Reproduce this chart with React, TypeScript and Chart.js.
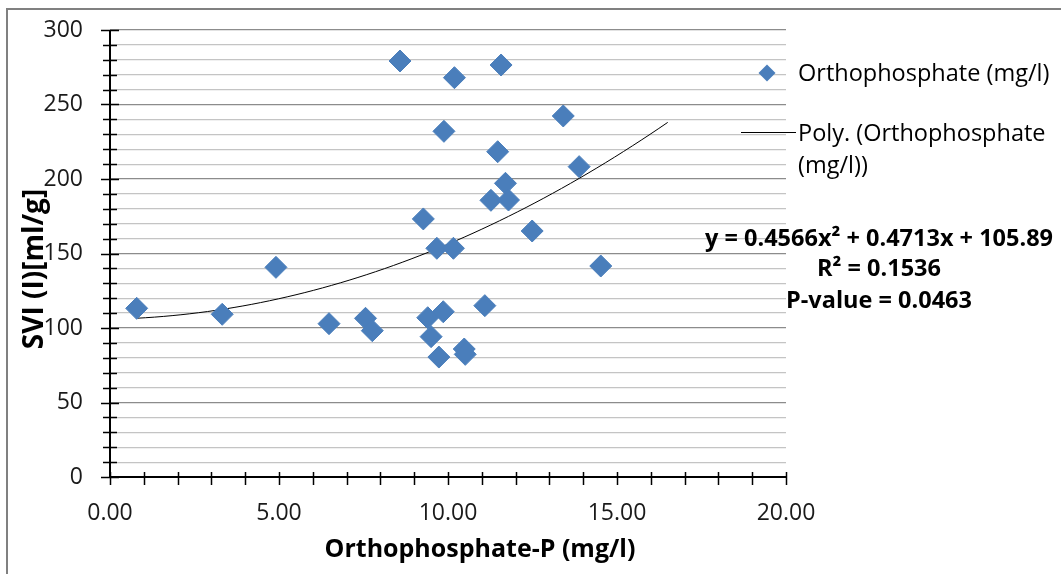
import React, { useEffect, useRef } from "react";
import { Chart, registerables } from "chart.js";

Chart.register(...registerables);

// Orthophosphate-P (mg/l) and SVI (ml/g) for each sample
const xValues = [0.79, 3.32, 4.91, 6.48, 7.56, 7.76, 9.4, 9.86, 9.5, 9.73, 10.48, 10.51, 11.09, 14.52, 8.58, 10.19, 11.57, 13.41, 9.88, 11.47, 13.88, 11.7, 11.27, 11.79, 9.27, 12.49, 9.67, 10.16];
const yValues = [113.2, 109.2, 140.7, 102.9, 106.5, 98.2, 106.9, 110.9, 94.2, 80.5, 85.9, 82.3, 115.0, 141.6, 279.2, 268.0, 276.5, 242.3, 232.0, 218.3, 208.3, 197.1, 185.7, 185.9, 173.2, 165.1, 153.5, 153.5];

// Trendline as reported on the chart: y = a x^2 + b x + c
const trendCoefficients = [0.4566, 0.4713, 105.89];
const trendRange = [Math.min(...xValues), 16.5];

const xAxisTitle = "Orthophosphate-P (mg/l)";
const yAxisTitle = "SVI (I)[ml/g]";
const seriesLabel = "Orthophosphate (mg/l)";
const trendLabelLines = ["Poly. (Orthophosphate", "(mg/l))"];
const equationLines = ["y = 0.4566x² + 0.4713x + 105.89", "R² = 0.1536", "P-value = 0.0463"];

const FONT = "'Open Sans', 'DejaVu Sans', sans-serif";
const MARKER = "#4A7EBB";

const axisCross = {
  id: "axisCross",
  beforeDatasetsDraw(chart: any) {
    const { ctx } = chart;
    const xs = chart.scales.x;
    const ys = chart.scales.y;
    const x0 = Math.round(xs.getPixelForValue(0));
    const y0 = Math.round(ys.getPixelForValue(0));
    ctx.save();
    ctx.strokeStyle = "#000";
    ctx.lineWidth = 2;
    ctx.beginPath();
    ctx.moveTo(x0, ys.top);
    ctx.lineTo(x0, ys.bottom);
    ctx.moveTo(xs.left, y0);
    ctx.lineTo(xs.right, y0);
    ctx.stroke();
    ctx.lineWidth = 1.5;
    ctx.beginPath();
    ys.ticks.forEach((t: any) => {
      const y = Math.round(ys.getPixelForValue(t.value)) + 0.5;
      const major = t.value % 50 === 0;
      ctx.moveTo(x0 - (major ? 9 : 7), y);
      ctx.lineTo(x0 + (major ? 9 : 7), y);
    });
    xs.ticks.forEach((t: any) => {
      const x = Math.round(xs.getPixelForValue(t.value)) + 0.5;
      ctx.moveTo(x, y0 - 5);
      ctx.lineTo(x, y0 + 8);
    });
    ctx.stroke();
    ctx.restore();
  },
};

export default function App() {
  const canvasRef = useRef<HTMLCanvasElement | null>(null);

  useEffect(() => {
    const canvas = canvasRef.current;
    if (!canvas) return;
    const [a, b, c] = trendCoefficients;
    const steps = 60;
    const trend = Array.from({ length: steps + 1 }, (_, i) => {
      const x = trendRange[0] + ((trendRange[1] - trendRange[0]) * i) / steps;
      return { x, y: a * x * x + b * x + c };
    });
    const points = xValues.map((x, i) => ({ x, y: yValues[i] }));

    const chart = new Chart(canvas, {
      type: "scatter",
      data: {
        datasets: [
          {
            label: seriesLabel,
            data: points,
            pointStyle: "rectRot",
            pointRadius: 11,
            pointHoverRadius: 11,
            backgroundColor: MARKER,
            borderColor: MARKER,
            borderWidth: 1,
          },
          {
            label: trendLabelLines.join(" "),
            type: "line",
            data: trend,
            borderColor: "#000",
            borderWidth: 1,
            pointRadius: 0,
            fill: false,
            tension: 0,
          } as any,
        ],
      },
      options: {
        animation: false,
        responsive: false,
        devicePixelRatio: 1,
        layout: { padding: { top: 30, right: 275, bottom: 0, left: 0 } },
        plugins: {
          legend: { display: false },
          tooltip: { enabled: false },
        },
        scales: {
          x: {
            type: "linear",
            min: 0,
            max: 20,
            afterFit: (s: any) => {
              s.height = 97;
              s.paddingLeft = 0;
              s.paddingRight = 0;
            },
            grid: { display: false, drawTicks: false },
            border: { display: false },
            ticks: {
              stepSize: 1,
              autoSkip: false,
              maxRotation: 0,
              padding: 23,
              color: "#1a1a1a",
              font: { family: FONT, size: 23 },
              callback: (v: any) => (Number(v) % 5 === 0 ? Number(v).toFixed(2) : ""),
            },
            title: { display: false, text: xAxisTitle },
          },
          y: {
            min: 0,
            max: 300,
            afterFit: (s: any) => {
              s.width = 110;
              s.paddingTop = 0;
              s.paddingBottom = 0;
            },
            grid: {
              drawTicks: false,
              lineWidth: 1.2,
              color: (ctx: any) => (ctx.tick && ctx.tick.value % 50 === 0 ? "#8c8c8c" : "#c4c4c4"),
            },
            border: { display: false },
            ticks: {
              stepSize: 10,
              autoSkip: false,
              padding: 27,
              color: "#1a1a1a",
              font: { family: FONT, size: 23 },
              callback: (v: any) => (Number(v) % 50 === 0 ? String(v) : ""),
            },
            title: { display: false, text: yAxisTitle },
          },
        },
      },
      plugins: [axisCross],
    });
    return () => chart.destroy();
  }, []);

  const text: React.CSSProperties = { position: "absolute", fontFamily: FONT, whiteSpace: "nowrap", color: "#000" };

  return (
    <div style={{ position: "absolute", left: 0, top: 0, width: 1061, height: 574, background: "#fff", overflow: "hidden" }}>
      <canvas ref={canvasRef} width={1061} height={574} style={{ position: "absolute", left: 0, top: 0 }} />
      <div
        style={{
          position: "absolute",
          left: 6,
          top: 8,
          width: 1061,
          height: 574,
          borderTop: "2px solid #808080",
          borderLeft: "2px solid #808080",
          boxSizing: "border-box",
        }}
      />
      {/* axis titles */}
      <div
        style={{
          ...text,
          left: 32,
          top: 269,
          fontSize: 28,
          fontWeight: 700,
          transform: "translate(-50%, -50%) rotate(-90deg)",
          lineHeight: 1,
        }}
      >
        {yAxisTitle}
      </div>
      <div
        style={{
          ...text,
          left: 480,
          top: 547,
          fontSize: 25,
          fontWeight: 700,
          transform: "translate(-50%, -50%)",
          lineHeight: 1,
        }}
      >
        {xAxisTitle}
      </div>
      {/* legend */}
      <div
        style={{
          position: "absolute",
          left: 767 - 6,
          top: 73 - 6,
          width: 12,
          height: 12,
          background: MARKER,
          transform: "rotate(45deg)",
        }}
      />
      <div style={{ ...text, left: 798, top: 73, fontSize: 23.5, lineHeight: 1, transform: "translateY(-50%)" }}>{seriesLabel}</div>
      <div style={{ position: "absolute", left: 741, top: 132, width: 55, height: 1, background: "#000" }} />
      <div style={{ ...text, left: 798, top: 133, fontSize: 23.5, lineHeight: 1, transform: "translateY(-50%)" }}>{trendLabelLines[0]}</div>
      <div style={{ ...text, left: 798, top: 165, fontSize: 23.5, lineHeight: 1, transform: "translateY(-50%)" }}>{trendLabelLines[1]}</div>
      {/* equation */}
      {equationLines.map((line, i) => (
        <div
          key={i}
          style={{
            ...text,
            left: 879,
            top: [238, 268, 300][i],
            fontSize: 23.5,
            fontWeight: 700,
            lineHeight: 1,
            transform: "translate(-50%, -50%)",
          }}
        >
          {line}
        </div>
      ))}
    </div>
  );
}
